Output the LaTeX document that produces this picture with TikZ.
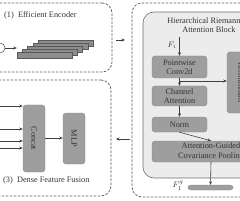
\documentclass[tikz,border=0pt]{standalone}
\usepackage{fontspec}
\setmainfont{Liberation Serif}
\usetikzlibrary{arrows.meta}
\definecolor{boxgray}{HTML}{9E9E9E}
\definecolor{boxedge}{HTML}{8A8A8A}
\definecolor{panel}{HTML}{ECECEC}
\definecolor{paneledge}{HTML}{6E6E6E}
\definecolor{dashc}{HTML}{5A5A5A}
\definecolor{txt}{HTML}{333333}
\definecolor{layerc}{HTML}{8C8C8C}
\tikzset{
  stagebox/.style={draw=dashc, dashed, dash pattern=on 2.5pt off 1.5pt, line width=0.7pt, rounded corners=10pt, inner sep=0},
  panelbox/.style={draw=paneledge, fill=panel, line width=0.6pt, rounded corners=11pt, inner sep=0},
  opbox/.style={draw=boxedge, fill=boxgray, rounded corners=3pt, inner sep=0, align=center, text=txt},
  layerbox/.style={draw=black!65, fill=layerc, line width=0.4pt, minimum width=55pt, minimum height=5.5pt, inner sep=0},
  conn/.style={draw=black!75, line width=0.6pt, -{Stealth[length=3.5pt,width=3pt]}},
  lbl/.style={text=txt, inner sep=0}
}
\begin{document}
\begin{tikzpicture}[x=1pt,y=-1pt,font=\fontsize{8.3}{9.3}\selectfont]
\useasboundingbox (0,0) rectangle (240,200);
\clip (0,0) rectangle (240,200);
% stage frames
\node[stagebox, minimum width=127pt, minimum height=69pt] (enc) at (48.5,37.5) {};
\node[stagebox, minimum width=126pt, minimum height=116pt] (fus) at (48,138) {};
\node[stagebox, minimum width=130pt, minimum height=194pt] (hra) at (197,100) {};
\node[panelbox, minimum width=117pt, minimum height=166pt] (panel) at (201.5,95) {};
% titles
\node[lbl, anchor=west] (t1) at (4,15) {(1)\ \ Efficient Encoder};
\node[lbl, anchor=west] (t3) at (3,181) {(3)\ \ Dense Feature Fusion};
\node[lbl, align=center] (t2) at (209,25) {Hierarchical Riemannian\\Attention Block};
% encoder
\node[draw=black!70, circle, minimum size=10pt, inner sep=0, line width=0.5pt] (inp) at (0,48) {};
\foreach \i in {4,3,2,1} {
  \node[layerbox] (L\i) at (44.5+5.25*\i,55-3*\i) {};
}
\node[layerbox] (L0) at (44.5,55) {};
\draw[conn] (inp.east) -- (L0.west |- inp.east);
% between stages
\coordinate (e1) at (116,40);
\coordinate (e2) at (125,40);
\draw[conn] (e1) -- (e2);
\coordinate (b1) at (130,139);
\coordinate (b2) at (116,139);
\draw[conn] (b1) -- (b2);
% attention block
\node[opbox, minimum width=55pt, minimum height=22pt] (pw) at (179.5,67) {Pointwise\\Conv2d};
\node[opbox, minimum width=55pt, minimum height=20pt] (ca) at (179.5,96) {Channel\\Attention};
\node[opbox, minimum width=55pt, minimum height=15pt] (nm) at (179.5,124.5) {Norm};
\node[opbox, minimum width=118pt, minimum height=21pt] (ag) at (211,151.5) {Attention-Guided\\Covariance Pooling};
\node[opbox, minimum width=32pt, minimum height=61pt] (rm) at (243,82.5) {};
\node[lbl, rotate=-90] (rmt) at (241,82.5) {Riemannian};
\node[opbox, minimum width=45pt, minimum height=5pt] (bar) at (210.5,187.5) {};
\node[lbl] (fi) at (172,45) {$F_i$};
\node[lbl] (fg) at (178,186) {$F_1^{g}$};
\coordinate (fin) at (179.5,37);
\draw[conn] (fin) -- (pw.north);
\draw[conn] (pw.south) -- (ca.north);
\coordinate (br) at (179.5,81);
\draw[conn] (br) -- (br -| rm.west);
\draw[conn] (ca.south) -- (nm.north);
\draw[conn] (nm.south) -- (ag.north);
\draw[conn] (ag.south) -- (bar.north);
% fusion
\node[opbox, minimum width=22pt, minimum height=67pt] (cc) at (34,138.5) {};
\node[lbl, rotate=-90] (cct) at (34,138.5) {Concat};
\node[opbox, minimum width=22pt, minimum height=51pt] (mlp) at (74,138.5) {};
\node[lbl, rotate=-90] (mlpt) at (74,138.5) {MLP};
\draw[conn] (cc.east |- 0,138) -- (mlp.west |- 0,138);
\foreach \y/\n in {106/a,129/b,141/c,148/d} {
  \coordinate (in\n) at (-5,\y);
  \draw[conn] (in\n) -- (in\n -| cc.west);
}
\end{tikzpicture}
\end{document}
